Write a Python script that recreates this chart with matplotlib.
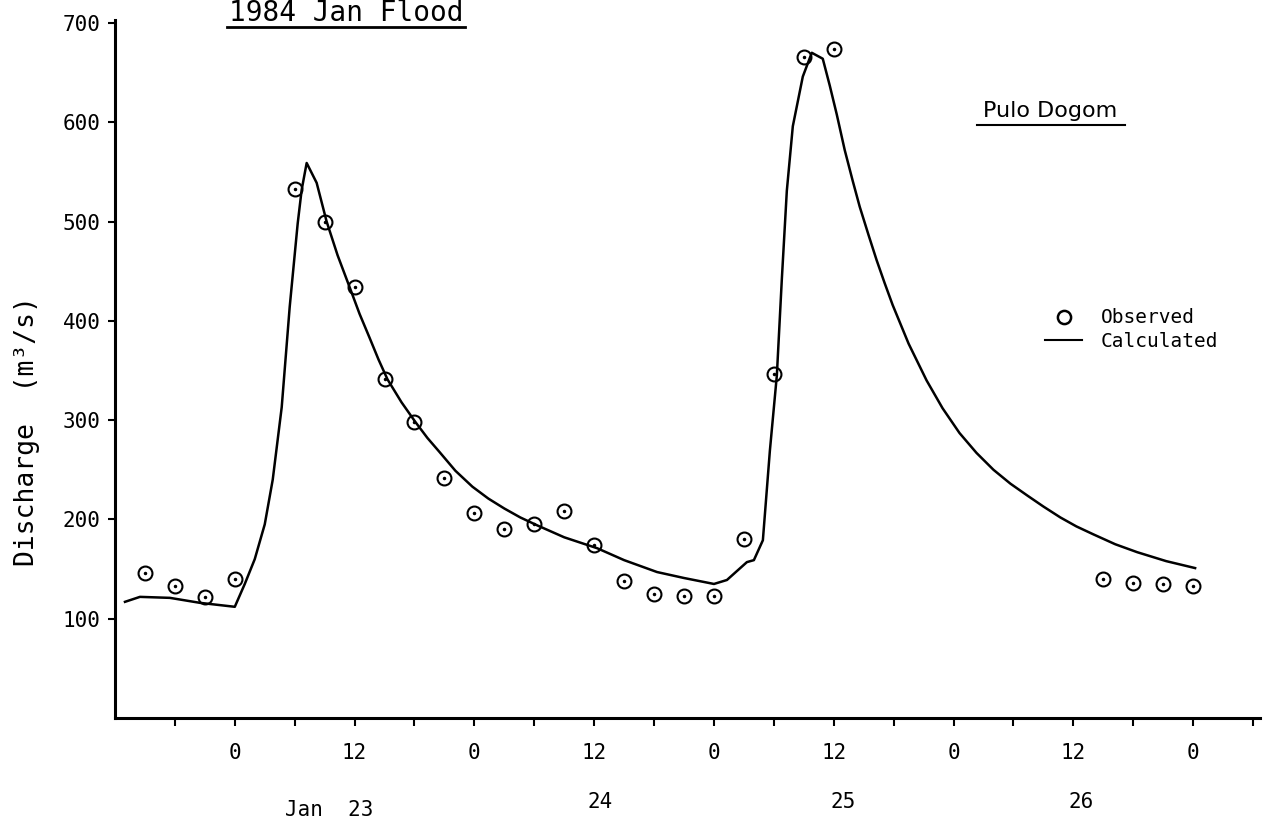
import numpy as np
import matplotlib
matplotlib.use('Agg')
import matplotlib.pyplot as plt
from matplotlib.lines import Line2D

# hours counted from Jan 23 00:00
obs_hours = [-9, -6, -3, 0, 6, 9, 12, 15, 18, 21, 24, 27, 30, 33, 36, 39, 42, 45, 48,
             51, 54, 57, 60, 87, 90, 93, 96]
obs_q = [146, 133, 122, 140, 533, 500, 434, 341, 298, 242, 206, 190, 195, 208, 174, 138, 125, 123, 123,
         180, 346, 666, 674, 140, 136, 135, 133]

calc_hours = [-11, -9.5, -6.5, -3.5, 0, 1, 2, 3, 3.8, 4.7, 5.5, 6.3, 6.7, 7.2, 8.2, 9.2, 10.3, 11.5,
              12.5, 13.5, 14.4, 15.3, 16.7, 18.1, 19.3, 20.5, 22.1, 23.8, 25.4, 27, 28.6, 30.3,
              33, 36.3, 39, 42.3, 45, 48,
              49.3, 51.3, 52, 52.9, 53.6, 54.3, 54.8, 55.3, 55.9, 56.9, 57.8, 58.9, 59.6, 60.3,
              61.1, 61.9, 62.6, 63.5, 64.3, 65.1, 65.9, 67.5, 69.3, 70.9, 72.6, 74.3, 76, 77.7,
              79.4, 81, 82.7, 84.3, 86, 88.2, 90.4, 93.3, 96.2]
calc_q = [117, 122, 121, 116, 112, 135, 160, 195, 240, 313, 414, 498, 532, 559, 539, 500, 466, 434,
          407, 383, 361, 341, 318, 298, 282, 268, 249, 233, 221, 211, 202, 194,
          182, 171, 159, 147, 141, 135,
          139, 157, 159, 179, 269, 345, 442, 531, 596, 646, 670, 664, 637, 608,
          572, 541, 515, 486, 461, 438, 416, 377, 340, 312, 287, 267, 250, 236,
          224, 213, 202, 193, 185, 175, 167, 158, 151]

y_ticks = [100, 200, 300, 400, 500, 600, 700]
x_ticks = list(range(-6, 103, 6))
day_labels = ['Jan  23', '24', '25', '26']
day_hours = [9.5, 36.6, 60.9, 84.8]
day_ypos = [-0.132, -0.120, -0.120, -0.120]

plt.rcParams['font.family'] = ['DejaVu Sans Mono']

W, H = 1263, 826
fig = plt.figure(figsize=(W / 100, H / 100), dpi=100)
ax = fig.add_axes([115 / W, 1 - 718 / H, 1145 / W, 698 / H])

ax.plot(calc_hours, calc_q, color='black', lw=1.8)
ax.plot(obs_hours, obs_q, ls='none', marker='o', mfc='none', mec='black', ms=10, mew=1.5)
ax.plot(obs_hours, obs_q, ls='none', marker='o', ms=1.5, color='black')

ax.set_xlim(-12, 102.7)
ax.set_ylim(0, 703)
ax.spines[['top', 'right']].set_visible(False)
ax.spines['left'].set_linewidth(2.2)
ax.spines['bottom'].set_linewidth(2.2)

ax.set_yticks(y_ticks)
ax.set_yticklabels([str(v) for v in y_ticks])
ax.set_xticks(x_ticks)
ax.set_xticklabels([str(h % 24) if (h % 12 == 0 and 0 <= h <= 96) else '' for h in x_ticks])
ax.tick_params(axis='y', direction='out', length=5, width=1.5, pad=5.5, labelsize=15)
ax.tick_params(axis='x', direction='out', length=5.5, width=1.5, pad=12.5, labelsize=15)

for lbl, h, yy in zip(day_labels, day_hours, day_ypos):
    ax.text(h, yy, lbl, transform=ax.get_xaxis_transform(), ha='center', va='center', fontsize=15)

fig.text(27 / W, 1 - 431 / H, 'Discharge  (m³/s)', rotation=90, ha='center', va='center', fontsize=19)

# legend
handles = [Line2D([], [], ls='none', marker='o', mfc='none', mec='black', ms=9.5, mew=1.8),
           Line2D([], [], color='black', lw=1.5)]
ax.legend(handles, ['Observed', 'Calculated'], loc='center left', bbox_to_anchor=(81.2, 391),
          bbox_transform=ax.transData, frameon=False, borderpad=0, borderaxespad=0,
          handlelength=1.9, handletextpad=0.95, labelspacing=0.25, fontsize=14)

# station name, underlined
ax.text(81.7, 605, 'Pulo Dogom', ha='center', va='baseline', fontsize=16, family='DejaVu Sans')
fig.add_artist(Line2D([977 / W, 1125 / W], [1 - 125 / H, 1 - 125 / H], transform=fig.transFigure,
                      color='black', lw=1.5))

# title, underlined
fig.text(346 / W, 1 - 21 / H, '1984 Jan Flood', ha='center', va='baseline', fontsize=20)
fig.add_artist(Line2D([227 / W, 465 / W], [1 - 27 / H, 1 - 27 / H], transform=fig.transFigure,
                      color='black', lw=2))

fig.savefig('out.png', dpi=100, facecolor='white')
